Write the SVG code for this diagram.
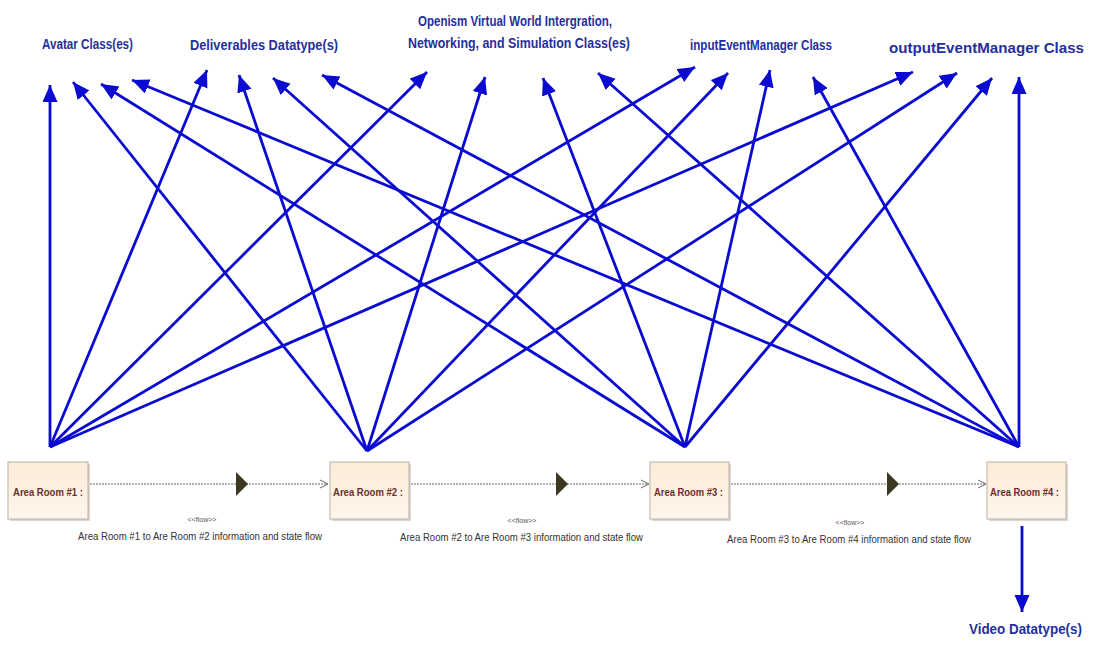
<svg xmlns="http://www.w3.org/2000/svg" width="1094" height="652" viewBox="0 0 1094 652">
<defs>
<marker id="ah" markerUnits="userSpaceOnUse" markerWidth="20" markerHeight="17" refX="17" refY="7.5" orient="auto" viewBox="0 0 20 17">
<path d="M0,0 L17,7.5 L0,15 z" fill="#0a0ad0"/>
</marker>
<linearGradient id="bg" x1="0" y1="0" x2="0" y2="1">
<stop offset="0" stop-color="#fcecd9"/>
<stop offset="1" stop-color="#fef6ec"/>
</linearGradient>
</defs>
<style>
.lbl{font-family:"Liberation Sans",Arial,sans-serif;font-weight:bold;fill:#262f9c;}
.room{font-family:"Liberation Sans",Arial,sans-serif;font-weight:bold;font-size:11px;fill:#6b2f2f;}
.box{fill:url(#bg);stroke:#bdb0a4;stroke-width:1;}
.shadow{fill:#dcd6d0;}
.flow{stroke:#666;stroke-width:1;stroke-dasharray:2,1;fill:none;}
.chev{stroke:#666;stroke-width:1;fill:none;}
.tri{fill:#3b3720;}
.st{font-family:"Liberation Sans",Arial,sans-serif;font-size:7px;fill:#555;}
.fl{font-family:"Liberation Sans",Arial,sans-serif;font-size:10.5px;fill:#333;}
.ar{stroke:#0a0ad0;stroke-width:2.8;fill:none;marker-end:url(#ah);}
</style>
<rect width="1094" height="652" fill="#ffffff"/>

<g id="avatar"><text class="lbl" x="42" y="49" font-size="14.5" textLength="91" lengthAdjust="spacingAndGlyphs">Avatar Class(es)</text></g>
<g id="deliverables"><text class="lbl" x="190" y="50" font-size="14.5" textLength="148" lengthAdjust="spacingAndGlyphs">Deliverables Datatype(s)</text></g>
<g id="openism">
<text class="lbl" x="418" y="26" font-size="14.5" textLength="194" lengthAdjust="spacingAndGlyphs">Openism Virtual World Intergration,</text>
<text class="lbl" x="408" y="48" font-size="14.5" textLength="222" lengthAdjust="spacingAndGlyphs">Networking, and Simulation Class(es)</text>
</g>
<g id="inputEventManager"><text class="lbl" x="690" y="50" font-size="14.5" textLength="142" lengthAdjust="spacingAndGlyphs">inputEventManager Class</text></g>
<g id="outputEventManager"><text class="lbl" x="889" y="53" font-size="15.5" textLength="195" lengthAdjust="spacingAndGlyphs">outputEventManager Class</text></g>
<g id="video"><text class="lbl" x="969" y="634" font-size="15" textLength="113" lengthAdjust="spacingAndGlyphs">Video Datatype(s)</text></g>

<g id="room1">
<rect class="shadow" x="10" y="464" width="80" height="57"/>
<rect class="box" x="8" y="462" width="80" height="57"/>
<text class="room" x="13" y="496" textLength="70" lengthAdjust="spacingAndGlyphs">Area Room #1 :</text>
</g>
<g id="room2">
<rect class="shadow" x="332" y="464" width="79" height="57"/>
<rect class="box" x="330" y="462" width="79" height="57"/>
<text class="room" x="333" y="496" textLength="70" lengthAdjust="spacingAndGlyphs">Area Room #2 :</text>
</g>
<g id="room3">
<rect class="shadow" x="652" y="464" width="79" height="57"/>
<rect class="box" x="650" y="462" width="79" height="57"/>
<text class="room" x="654" y="496" textLength="69" lengthAdjust="spacingAndGlyphs">Area Room #3 :</text>
</g>
<g id="room4">
<rect class="shadow" x="989" y="464" width="79" height="57"/>
<rect class="box" x="987" y="462" width="79" height="57"/>
<text class="room" x="990" y="496" textLength="69" lengthAdjust="spacingAndGlyphs">Area Room #4 :</text>
</g>

<g id="connectors">
<line class="flow" x1="90" y1="484" x2="327" y2="484"/>
<path class="chev" d="M320,480 L328,484 L320,488"/>
<path class="tri" d="M236,472 L248,484 L236,496 z"/>
<line class="flow" x1="411" y1="484" x2="648" y2="484"/>
<path class="chev" d="M641,480 L649,484 L641,488"/>
<path class="tri" d="M556,472 L568,484 L556,496 z"/>
<line class="flow" x1="731" y1="484" x2="985" y2="484"/>
<path class="chev" d="M978,480 L986,484 L978,488"/>
<path class="tri" d="M887,472 L899,484 L887,496 z"/>

<line class="ar" x1="50" y1="447" x2="50" y2="85"/>
<line class="ar" x1="50" y1="447" x2="207" y2="70"/>
<line class="ar" x1="50" y1="447" x2="427" y2="72"/>
<line class="ar" x1="50" y1="447" x2="695" y2="67"/>
<line class="ar" x1="50" y1="447" x2="913" y2="72"/>

<line class="ar" x1="367" y1="451" x2="73" y2="82"/>
<line class="ar" x1="367" y1="451" x2="239" y2="75"/>
<line class="ar" x1="367" y1="451" x2="485" y2="77"/>
<line class="ar" x1="367" y1="451" x2="728" y2="73"/>
<line class="ar" x1="367" y1="451" x2="957" y2="73"/>

<line class="ar" x1="685" y1="447" x2="101" y2="84"/>
<line class="ar" x1="685" y1="447" x2="273" y2="78"/>
<line class="ar" x1="685" y1="447" x2="543" y2="78"/>
<line class="ar" x1="685" y1="447" x2="770" y2="70"/>
<line class="ar" x1="685" y1="447" x2="992" y2="78"/>

<line class="ar" x1="1019" y1="447" x2="132" y2="80"/>
<line class="ar" x1="1019" y1="447" x2="322" y2="75"/>
<line class="ar" x1="1019" y1="447" x2="598" y2="73"/>
<line class="ar" x1="1019" y1="447" x2="813" y2="77"/>
<line class="ar" x1="1019" y1="447" x2="1019" y2="77"/>

<line class="ar" x1="1022" y1="526" x2="1022" y2="612"/>
</g>

<g id="flow-labels">
<text class="st" x="202" y="522" text-anchor="middle">&lt;&lt;flow&gt;&gt;</text>
<text class="fl" x="78" y="540" textLength="244" lengthAdjust="spacingAndGlyphs">Area Room #1 to Are Room #2 information and state flow</text>
<text class="st" x="522" y="523" text-anchor="middle">&lt;&lt;flow&gt;&gt;</text>
<text class="fl" x="400" y="541" textLength="243" lengthAdjust="spacingAndGlyphs">Area Room #2 to Are Room #3 information and state flow</text>
<text class="st" x="850" y="525" text-anchor="middle">&lt;&lt;flow&gt;&gt;</text>
<text class="fl" x="727" y="543" textLength="244" lengthAdjust="spacingAndGlyphs">Area Room #3 to Are Room #4 information and state flow</text>
</g>
</svg>
